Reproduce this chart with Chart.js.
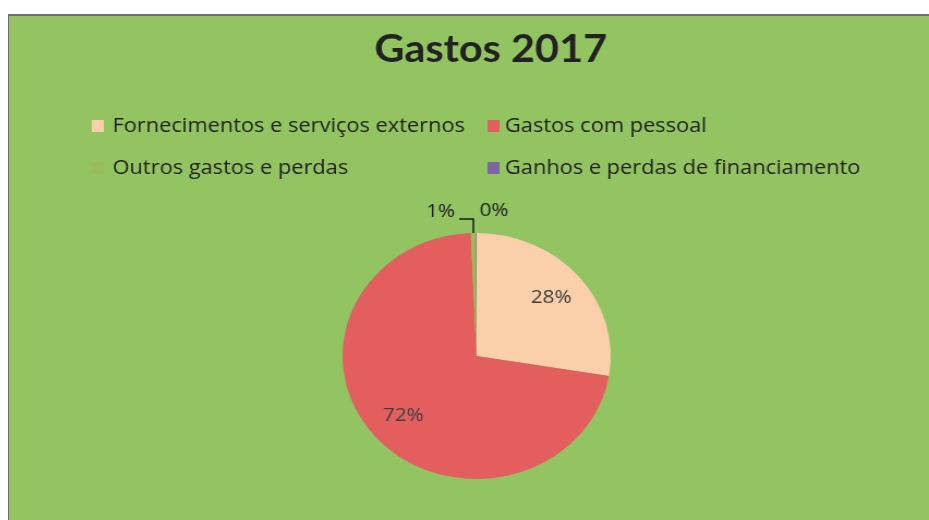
<!DOCTYPE html>
<html>
<head>
<meta charset="utf-8">
<title>Gastos 2017</title>
<script src="https://cdn.jsdelivr.net/npm/chart.js@4.4.1/dist/chart.umd.min.js"></script>
<style>
	html, body { margin: 0; padding: 0; background: #fff; overflow: hidden; }
	.frame {
		position: absolute; left: 8px; top: 14px; width: 921px; height: 506px;
		border-top: 2px solid #6e6e6e; border-left: 1px solid #6e6e6e;
		box-sizing: border-box;
	}
	.stretch {
		position: absolute; left: 9px; top: 16px;
		transform: scale(1.09, 1); transform-origin: 0 0;
	}
	canvas { display: block; }
</style>
</head>
<body>
<div class="frame"></div>
<div class="stretch"><canvas id="chart" width="844" height="504"></canvas></div>
<script>
var chartTitle = 'Gastos 2017';
var categories = [
	'Fornecimentos e serviços externos',
	'Gastos com pessoal',
	'Outros gastos e perdas',
	'Ganhos e perdas de financiamento'
];
var values = [27.6, 71.7, 0.6, 0.1];
var colors = ['#fbcfa9', '#e35f5f', '#9bbb59', '#8064a2'];

var bgColor = '#92c461';
var textColor = '#222222';
var labelColor = '#3f3f3f';

function pct(i) {
	var total = values.reduce(function(a, b) { return a + b; }, 0);
	return Math.round(values[i] / total * 100) + '%';
}

// background, title, two-column legend and the percentage labels
var decorations = {
	id: 'decorations',
	beforeDraw: function(chart) {
		var ctx = chart.ctx;
		ctx.save();
		ctx.fillStyle = bgColor;
		ctx.fillRect(0, 0, chart.width, chart.height);
		ctx.restore();
	},
	afterDraw: function(chart) {
		var ctx = chart.ctx;
		ctx.save();

		ctx.fillStyle = textColor;
		ctx.font = 'bold 38px Lato';
		ctx.textAlign = 'center';
		ctx.textBaseline = 'alphabetic';
		ctx.fillText(chartTitle, 442, 46);

		// legend, two items per row
		var boxX = [76, 439];
		var textX = [95, 455];
		var rows = [110, 152];
		ctx.font = '20px "Open Sans"';
		ctx.textAlign = 'left';
		ctx.textBaseline = 'middle';
		for (var i = 0; i < categories.length; i++) {
			var c = i % 2, y = rows[Math.floor(i / 2)];
			ctx.fillStyle = colors[i];
			ctx.fillRect(boxX[c], y - 6, 11, 12);
			ctx.fillStyle = textColor;
			ctx.fillText(categories[i], textX[c], y);
		}

		var arcs = chart.getDatasetMeta(0).data;
		ctx.font = '19px "Open Sans"';
		ctx.textAlign = 'center';
		ctx.fillStyle = labelColor;
		arcs.forEach(function(arc, i) {
			if (values[i] < 5) return;
			var mid = (arc.startAngle + arc.endAngle) / 2;
			var d = arc.outerRadius * 0.73;
			ctx.fillText(pct(i), arc.x + Math.cos(mid) * d, arc.y + Math.sin(mid) * d);
		});

		// the two tiny slices get labels above the pie with a leader line
		var a = arcs[0];
		var top = a.y - a.outerRadius;
		ctx.fillStyle = textColor;
		ctx.fillText(pct(2), a.x - 33, top - 21);
		ctx.fillText(pct(3), a.x + 16, top - 22);
		ctx.strokeStyle = '#1a1a1a';
		ctx.lineWidth = 1.5;
		ctx.beginPath();
		ctx.moveTo(a.x - 16, top - 14);
		ctx.lineTo(a.x - 3, top - 14);
		ctx.lineTo(a.x - 3, top);
		ctx.stroke();

		ctx.restore();
	}
};

new Chart(document.getElementById('chart'), {
	type: 'pie',
	data: {
		labels: categories,
		datasets: [{
			data: values,
			backgroundColor: colors,
			borderWidth: 0
		}]
	},
	options: {
		responsive: false,
		animation: false,
		devicePixelRatio: 1,
		events: [],
		layout: { padding: { top: 217, bottom: 41, left: 14, right: 0 } },
		plugins: {
			legend: { display: false },
			title: { display: false },
			tooltip: { enabled: false }
		}
	},
	plugins: [decorations]
});
</script>
</body>
</html>
